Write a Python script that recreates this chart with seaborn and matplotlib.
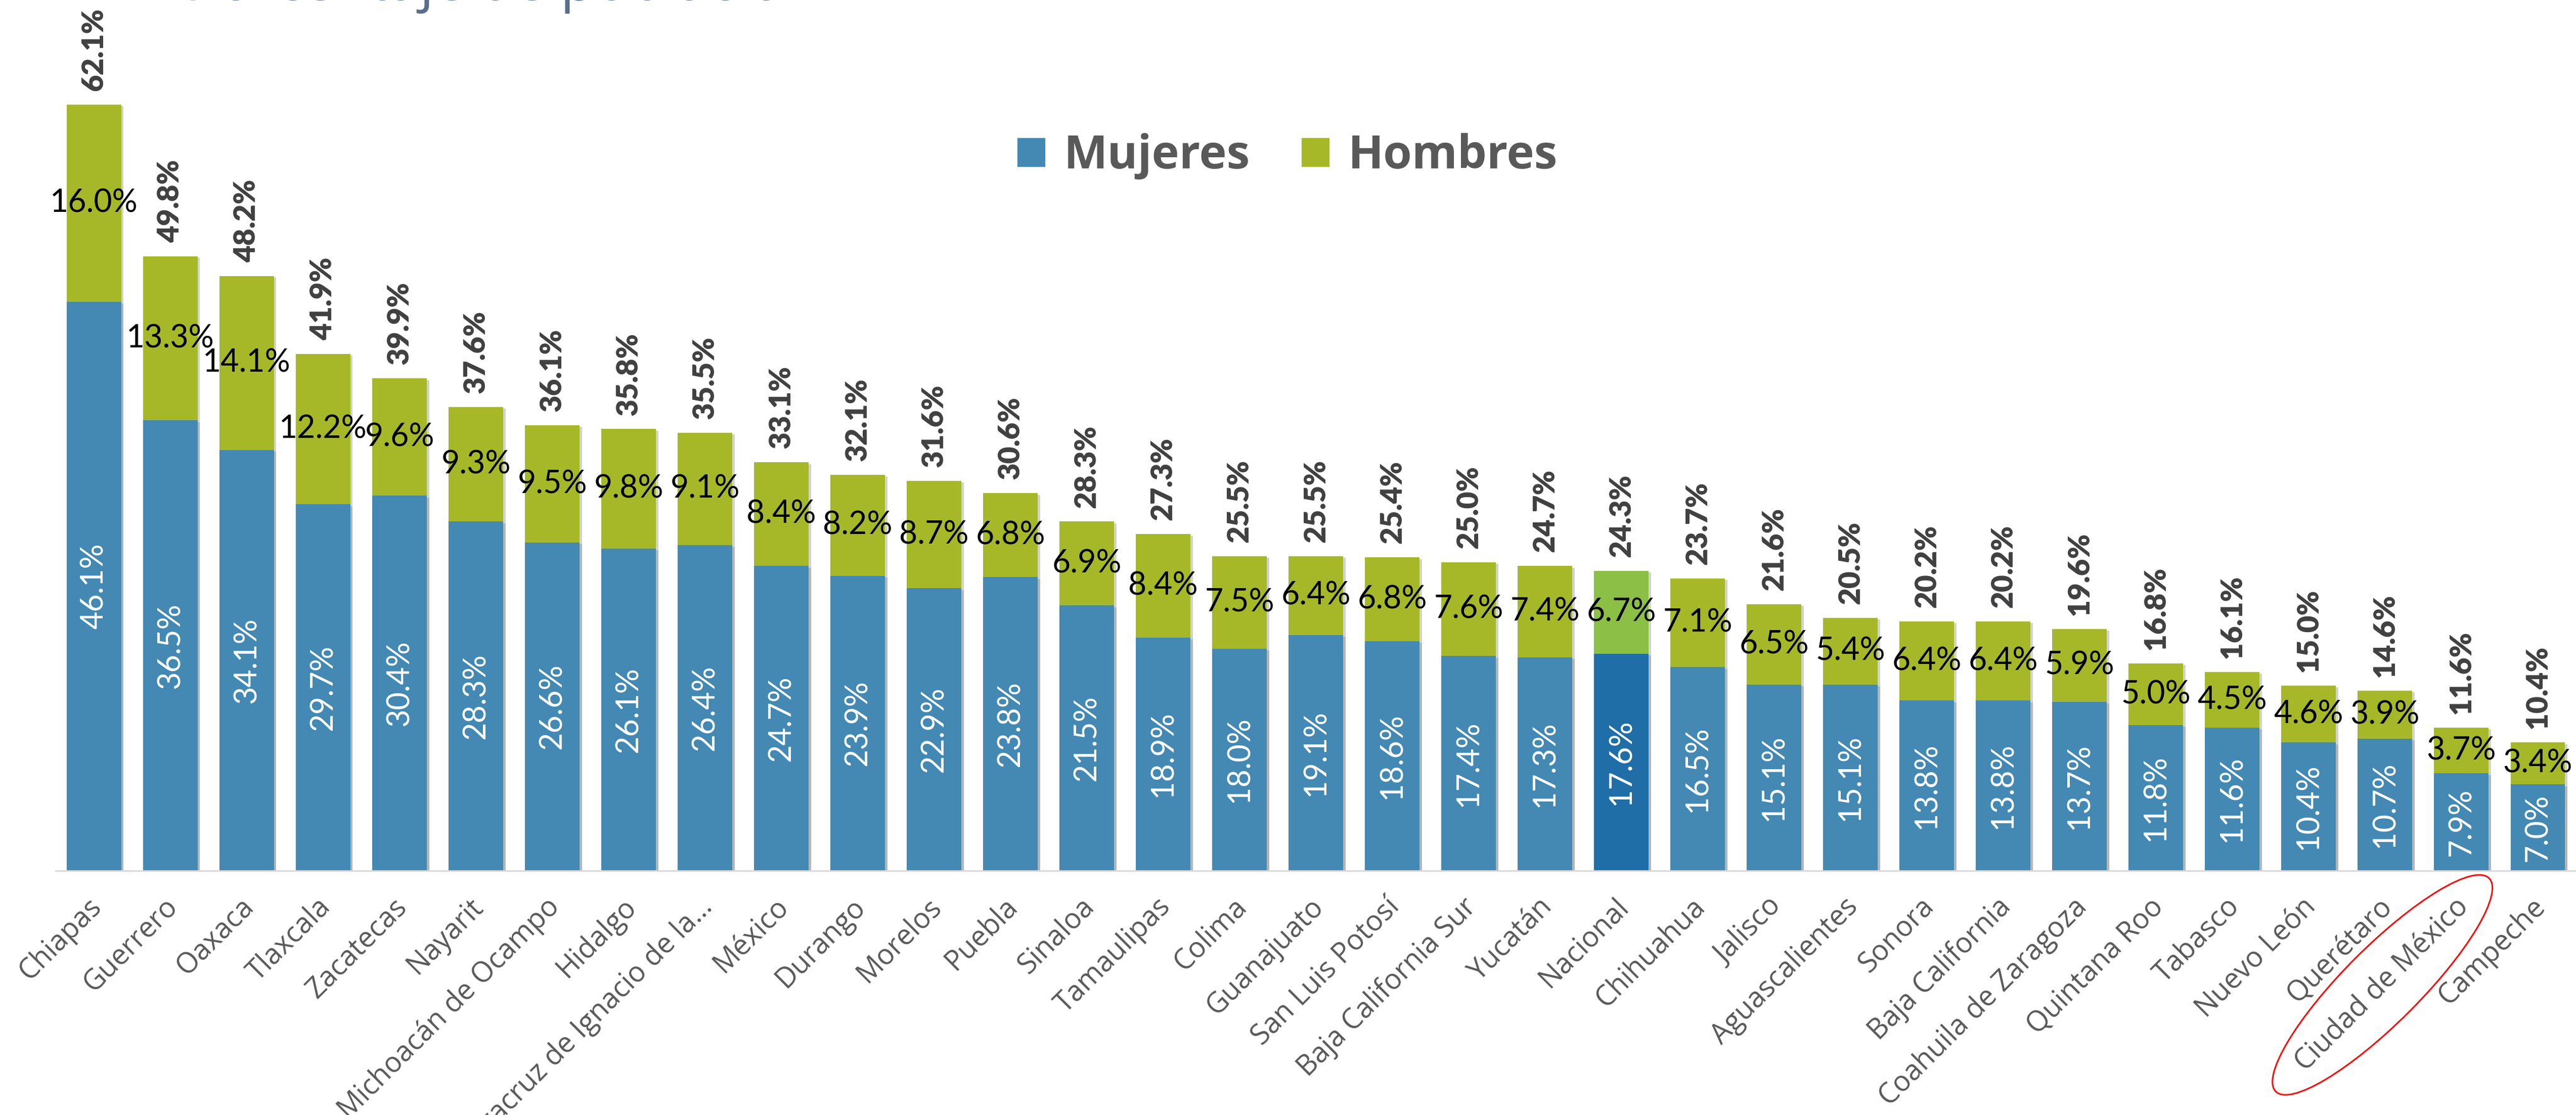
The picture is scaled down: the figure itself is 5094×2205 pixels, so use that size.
import matplotlib
matplotlib.use("Agg")
import matplotlib.pyplot as plt
import pandas as pd
import seaborn as sns
from matplotlib import patheffects as pe
from matplotlib.patches import Ellipse, Patch
from matplotlib.transforms import ScaledTranslation

# ---- data -------------------------------------------------------------
estados = [
    "Chiapas", "Guerrero", "Oaxaca", "Tlaxcala", "Zacatecas", "Nayarit",
    "Michoacán de Ocampo", "Hidalgo", "Veracruz de Ignacio de la…", "México",
    "Durango", "Morelos", "Puebla", "Sinaloa", "Tamaulipas", "Colima",
    "Guanajuato", "San Luis Potosí", "Baja California Sur", "Yucatán",
    "Nacional", "Chihuahua", "Jalisco", "Aguascalientes", "Sonora",
    "Baja California", "Coahuila de Zaragoza", "Quintana Roo", "Tabasco",
    "Nuevo León", "Querétaro", "Ciudad de México", "Campeche",
]
mujeres = [46.1, 36.5, 34.1, 29.7, 30.4, 28.3, 26.6, 26.1, 26.4, 24.7,
           23.9, 22.9, 23.8, 21.5, 18.9, 18.0, 19.1, 18.6, 17.4, 17.3,
           17.6, 16.5, 15.1, 15.1, 13.8, 13.8, 13.7, 11.8, 11.6, 10.4,
           10.7, 7.9, 7.0]
hombres = [16.0, 13.3, 14.1, 12.2, 9.6, 9.3, 9.5, 9.8, 9.1, 8.4,
           8.2, 8.7, 6.8, 6.9, 8.4, 7.5, 6.4, 6.8, 7.6, 7.4,
           6.7, 7.1, 6.5, 5.4, 6.4, 6.4, 5.9, 5.0, 4.5, 4.6,
           3.9, 3.7, 3.4]
totales = [62.1, 49.8, 48.2, 41.9, 39.9, 37.6, 36.1, 35.8, 35.5, 33.1,
           32.1, 31.6, 30.6, 28.3, 27.3, 25.5, 25.5, 25.4, 25.0, 24.7,
           24.3, 23.7, 21.6, 20.5, 20.2, 20.2, 19.6, 16.8, 16.1, 15.0,
           14.6, 11.6, 10.4]
series = ["Mujeres", "Hombres"]
titulo = "Porcentaje de población"
resaltado = "Ciudad de México"

# ---- style ------------------------------------------------------------
AZUL = "#4389B3"
VERDE = "#A6B828"
AZUL_NAC = "#1F6EA8"
VERDE_NAC = "#8BBF45"
GRIS_TEXTO = "#595959"

sns.set_theme(style="white")
plt.rcParams["font.family"] = ["Open Sans", "DejaVu Sans"]

W, H, DPI = 5094, 2205, 200
fig = plt.figure(figsize=(W / DPI, H / DPI), dpi=DPI)
base_px = 1722
ax = fig.add_axes([110.5 / W, (H - base_px) / H, (W - 110.5) / W, base_px / H])

df = pd.DataFrame({"estado": estados, "Mujeres": mujeres,
                   "Hombres": hombres, "Total": totales})
pal_total = {e: (VERDE_NAC if e == "Nacional" else VERDE) for e in estados}
pal_muj = {e: (AZUL_NAC if e == "Nacional" else AZUL) for e in estados}

# stacked look: full-height bar (green) with the women's share (blue) on top
sns.barplot(data=df, x="estado", y="Total", hue="estado", palette=pal_total,
            legend=False, width=0.715, saturation=1, errorbar=None, ax=ax)
sns.barplot(data=df, x="estado", y="Mujeres", hue="estado", palette=pal_muj,
            legend=False, width=0.715, saturation=1, errorbar=None, ax=ax)

shadow = [pe.SimplePatchShadow(offset=(1.6, -1.2), shadow_rgbFace="#808080",
                               alpha=0.35), pe.Normal()]
for p in ax.patches:
    p.set_linewidth(0)
    p.set_path_effects(shadow)

ax.set_xlim(-0.5, 32.5)
ax.set_ylim(0, base_px / 24.4)

# ---- value labels -----------------------------------------------------
for i, (m, h, t) in enumerate(zip(mujeres, hombres, totales)):
    ax.annotate(f"{t:.1f}%", xy=(i, t), xytext=(0, 9.7),
                textcoords="offset points", rotation=90, ha="center",
                va="bottom", fontsize=21, fontweight="heavy",
                family=["Lato", "DejaVu Sans"], color="#404040")
    ax.text(i, m + (t - m) / 2, f"{h:.1f}%", ha="center", va="center",
            fontsize=22.5, family=["Lato", "DejaVu Sans"], color="#000000")
    ax.text(i, m / 2, f"{m:.1f}%", rotation=90, ha="center", va="center",
            fontsize=22, family=["Lato", "DejaVu Sans"], color="white")

# ---- axes -------------------------------------------------------------
sns.despine(ax=ax, left=True)
ax.spines["bottom"].set_color("#D9D9D9")
ax.spines["bottom"].set_linewidth(1.1)
ax.set_yticks([])
ax.set_xlabel("")
ax.set_ylabel("")
ax.set_xticks(range(len(estados)))
ax.set_xticklabels(estados, rotation=45, ha="right", va="top",
                   rotation_mode="anchor", fontsize=20, color=GRIS_TEXTO)
ax.tick_params(axis="x", length=0, pad=15.5)
shift = ScaledTranslation(-14 / DPI, 0, fig.dpi_scale_trans)
for lbl in ax.get_xticklabels():
    lbl.set_transform(lbl.get_transform() + shift)

# ---- legend -----------------------------------------------------------
handles = [Patch(facecolor=AZUL, label=series[0]),
           Patch(facecolor=VERDE, label=series[1])]
fig.legend(handles=handles, loc="center",
           bbox_to_anchor=(2545 / W, 1 - 309 / H), ncol=2, frameon=False,
           prop={"family": "Open Sans", "weight": "bold", "size": 33},
           labelcolor=GRIS_TEXTO, handlelength=0.63, handleheight=0.63,
           handletextpad=0.39, columnspacing=1.09, borderpad=0)

# ---- title (runs off the top edge) -----------------------------------
fig.text(366 / W, 1.0, titulo, fontsize=40, color="#5A6E8C",
         ha="left", va="baseline")

# ---- red ellipse around the highlighted state label ------------------
fig.canvas.draw()
renderer = fig.canvas.get_renderer()
lbl = ax.get_xticklabels()[estados.index(resaltado)]
bb = lbl.get_window_extent(renderer)
cx, cy = bb.x0 + bb.width / 2, bb.y0 + bb.height / 2
ell_w = bb.width * 2 ** 0.5 + 80
ell_h = 150
fig.add_artist(Ellipse((cx / DPI, cy / DPI), ell_w / DPI, ell_h / DPI,
                       angle=45, transform=fig.dpi_scale_trans, fill=False,
                       edgecolor="red", linewidth=1.1))

fig.savefig("out.png", dpi=DPI)
